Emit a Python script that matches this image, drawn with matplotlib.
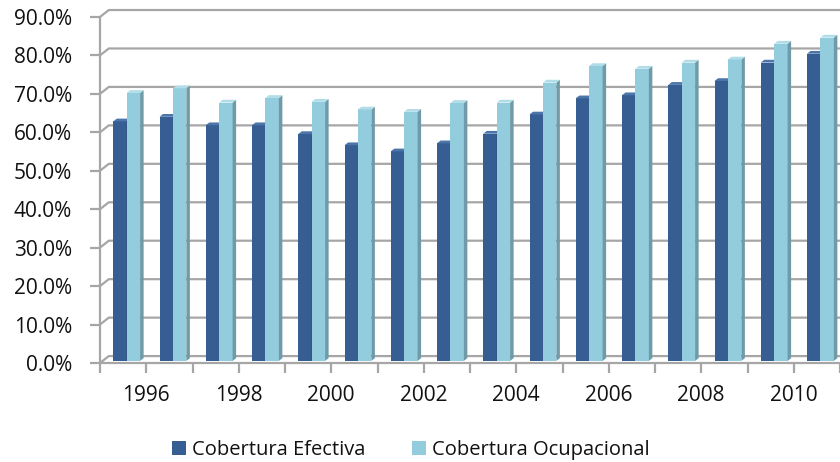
import matplotlib
matplotlib.use("Agg")
import matplotlib.pyplot as plt
from matplotlib.patches import Patch
import numpy as np

plt.rcParams["font.family"] = ["Open Sans", "DejaVu Sans"]

years = list(range(1995, 2011))
efectiva = [62.3, 63.5, 61.3, 61.3, 59.0, 56.1, 54.5, 56.6,
            59.1, 64.1, 68.3, 69.1, 71.8, 72.8, 77.6, 79.9]
ocupacional = [69.7, 70.9, 67.2, 68.4, 67.4, 65.4, 64.8, 67.1,
               67.2, 72.4, 76.7, 76.0, 77.6, 78.4, 82.5, 84.1]
yticks = [0, 10, 20, 30, 40, 50, 60, 70, 80, 90]

# fake 3d: depth offset of the back wall, in data units
DX, DY = 0.19, 1.8
D0, D1 = 0.3, 0.7
BAR_W = 0.29
GRID = "#a6a6a6"

series = [
    (efectiva, -0.27, "#375e93", "#2b4a74", "#4c75aa", "Cobertura Efectiva"),
    (ocupacional, 0.02, "#93cddd", "#6e9ba7", "#b0dde8", "Cobertura Ocupacional"),
]


def draw_bar(ax, xl, v, face, side, top):
    xr = xl + BAR_W
    ax.fill([xl + D0 * DX, xr + D0 * DX, xr + D0 * DX, xl + D0 * DX],
            [D0 * DY, D0 * DY, v + D0 * DY, v + D0 * DY], color=face, lw=0, zorder=3)
    ax.fill([xr + D0 * DX, xr + D1 * DX, xr + D1 * DX, xr + D0 * DX],
            [D0 * DY, D1 * DY, v + D1 * DY, v + D0 * DY], color=side, lw=0, zorder=3)
    ax.fill([xl + D0 * DX, xr + D0 * DX, xr + D1 * DX, xl + D1 * DX],
            [v + D0 * DY, v + D0 * DY, v + D1 * DY, v + D1 * DY], color=top, lw=0, zorder=3)


fig = plt.figure(figsize=(8.4, 4.62), dpi=100)
ax = fig.add_axes([100 / 840, 99 / 462, 740 / 840, 358 / 462])
n = len(years)
ax.set_xlim(-0.5, n - 0.5)
ax.set_ylim(0, 90 + 12 / 3.86)

# back wall grid with the little diagonal on the left wall
for t in yticks:
    ax.plot([-0.5, -0.5 + DX, n - 0.5], [t, t + DY, t + DY], color=GRID, lw=1.6, zorder=1)

x = np.arange(n)
for vals, off, face, side, top, _ in series:
    for xi, v in zip(x, vals):
        draw_bar(ax, xi + off, v, face, side, top)

for s in ["top", "right"]:
    ax.spines[s].set_visible(False)
for s in ["left", "bottom"]:
    ax.spines[s].set_color(GRID)
    ax.spines[s].set_linewidth(1.6)
ax.spines["left"].set_bounds(0, 90)

ax.set_yticks(yticks, [f"{t:.1f}%" for t in yticks])
# ticks sit between the groups, every other one carries a year
bounds = np.arange(n + 1) - 0.5
xlabels = [str(y) if i % 2 == 1 else "" for i, y in enumerate(years)] + [""]
ax.set_xticks(bounds, xlabels)
ax.tick_params(axis="y", length=7, width=1.6, color=GRID, pad=13, labelsize=15, labelcolor="#111111")
ax.tick_params(axis="x", length=7, width=1.6, color=GRID, pad=9, labelsize=15, labelcolor="#111111")

handles = [Patch(facecolor=s[2], edgecolor="none", label=s[5]) for s in series]
fig.legend(handles=handles, loc="center", bbox_to_anchor=(0.489, 0.026), ncol=2,
           frameon=False, fontsize=14.5, handlelength=0.7, handleheight=0.7,
           handletextpad=0.3, columnspacing=2.3, borderaxespad=0, labelcolor="#111111")

fig.savefig("out.png", dpi=100)
